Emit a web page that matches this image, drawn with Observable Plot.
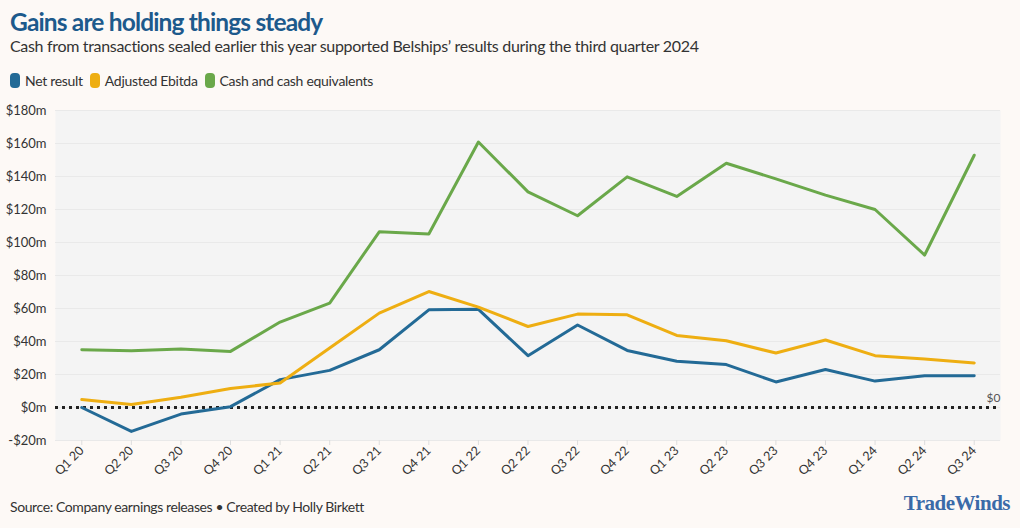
<!DOCTYPE html>
<html>
<head>
<meta charset="utf-8">
<script src="https://cdn.jsdelivr.net/npm/d3@7"></script>
<script src="https://cdn.jsdelivr.net/npm/@observablehq/plot@0.6"></script>
<style>
  html, body { margin: 0; padding: 0; background: #fdf9f6; }
  body { width: 1020px; height: 528px; position: relative; overflow: hidden; font-family: Lato, "Noto Sans", sans-serif; color: #333; }
  #title { position: absolute; left: 10px; top: 7px; font-size: 24.5px; font-weight: 700; color: #1d5a8c; letter-spacing: -0.85px; }
  #subtitle { position: absolute; left: 10px; top: 36px; font-size: 16px; color: #333; letter-spacing: -0.32px; }
  #legend { position: absolute; left: 10px; top: 72px; font-size: 14px; color: #333; display: flex; gap: 7px; align-items: center; letter-spacing: -0.3px; }
  #legend span.item { display: flex; align-items: center; gap: 5px; }
  #legend span.sw { display: inline-block; width: 10px; height: 15px; border-radius: 4px; }
  #chart { position: absolute; left: 0; top: 95px; }
  #source { position: absolute; left: 10px; top: 498px; font-size: 14px; color: #333; letter-spacing: -0.4px; }
  #logo { position: absolute; right: 10px; top: 491px; font-family: "Liberation Serif", "DejaVu Serif", serif; font-weight: 700; font-size: 21px; color: #3a6aa8; letter-spacing: -0.5px; }
</style>
</head>
<body>
<div id="title">Gains are holding things steady</div>
<div id="subtitle">Cash from transactions sealed earlier this year supported Belships’ results during the third quarter 2024</div>
<div id="legend"></div>
<div id="chart"></div>
<div id="source">Source: Company earnings releases • Created by Holly Birkett</div>
<div id="logo">TradeWinds</div>
<script>
const quarters = ["Q1 20","Q2 20","Q3 20","Q4 20","Q1 21","Q2 21","Q3 21","Q4 21","Q1 22","Q2 22","Q3 22","Q4 22","Q1 23","Q2 23","Q3 23","Q4 23","Q1 24","Q2 24","Q3 24"];
const netResult = [0, -14.5, -4, 0.5, 16.9, 22.5, 35, 59.2, 59.5, 31.4, 50, 34.6, 28, 26, 15.5, 23, 16, 19.2, 19.3];
const adjustedEbitda = [4.8, 1.8, 6.2, 11.5, 14.9, 36, 57.2, 70.3, 60.8, 49.1, 56.6, 56.2, 43.7, 40.5, 33, 40.9, 31.4, 29.4, 27];
const cash = [35, 34.4, 35.4, 34, 51.8, 63.3, 106.5, 105.1, 160.9, 130.7, 116.2, 139.8, 127.9, 148, 138.6, 128.7, 120, 92.4, 152.9];
const seriesNames = ["Net result", "Adjusted Ebitda", "Cash and cash equivalents"];
const seriesColors = ["#236a96", "#eeae12", "#6aa84a"];
const yTicks = [-20, 0, 20, 40, 60, 80, 100, 120, 140, 160, 180];

const seriesValues = [netResult, adjustedEbitda, cash];
const data = [];
seriesNames.forEach((name, i) => {
  quarters.forEach((q, j) => data.push({series: name, quarter: q, value: seriesValues[i][j]}));
});

// legend
const legend = document.getElementById("legend");
seriesNames.forEach((n, i) => {
  const item = document.createElement("span");
  item.className = "item";
  item.innerHTML = `<span class="sw" style="background:${seriesColors[i]}"></span>${n}`;
  legend.appendChild(item);
});

const fmt = d => d < 0 ? `-$${-d}m` : `$${d}m`;

const chart = Plot.plot({
  width: 1020,
  height: 400,
  marginLeft: 55,
  marginRight: 20,
  marginTop: 15,
  marginBottom: 55,
  style: { background: "transparent", fontFamily: "Lato, 'Noto Sans', sans-serif", fontSize: "13px", color: "#333" },
  x: { type: "point", domain: quarters, padding: 0.53, round: false, label: null, tickRotate: -45, tickSize: 5, tickPadding: 3 },
  y: { domain: [-20, 180], ticks: yTicks, tickFormat: fmt, label: null, tickSize: 0, tickPadding: 9 },
  color: { domain: seriesNames, range: seriesColors },
  marks: [
    Plot.frame({ fill: "#f4f4f4", stroke: null }),
    Plot.gridY(yTicks, { stroke: "#e9e9e9", strokeOpacity: 1, strokeWidth: 1 }),
    Plot.axisX({ tickRotate: -45, tickSize: 5, tickPadding: 3, stroke: "#ddd", fontSize: 12.5, label: null }),
    Plot.axisY(yTicks, { tickFormat: fmt, tickSize: 0, tickPadding: 9, fontSize: 13, label: null }),
    Plot.ruleY([0], { stroke: "#222", strokeWidth: 3, strokeDasharray: "3,4" }),
    Plot.line(data, { x: "quarter", y: "value", z: "series", stroke: "series", strokeWidth: 3, curve: "linear" }),
    Plot.text([0], { y: d => d, frameAnchor: "right", text: () => "$0", dy: -9, dx: 0, textAnchor: "end", fontSize: 12, fill: "#555" })
  ]
});
document.getElementById("chart").appendChild(chart);
</script>
</body>
</html>
